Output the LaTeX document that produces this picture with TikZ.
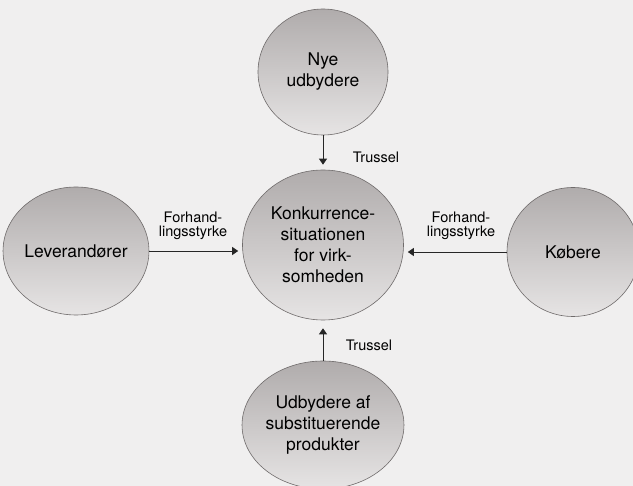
\documentclass[tikz,border=0pt]{standalone}
\usepackage{fontspec}
\setmainfont{TeX Gyre Heros}
\usepackage{tikz}
\usetikzlibrary{shapes.geometric,arrows.meta}
\definecolor{papir}{HTML}{F0EFEF}
\definecolor{kugletop}{HTML}{B0ACAC}
\definecolor{kuglemidt}{HTML}{D2CFCF}
\definecolor{kuglebund}{HTML}{E6E4E4}
\definecolor{kant}{HTML}{6F6B6B}

\begin{document}
\begin{tikzpicture}[x=1pt,y=-1pt,
   kugle/.style={ellipse,draw=kant,line width=0.6pt,top color=kugletop,
    middle color=kuglemidt,bottom color=kuglebund,inner sep=0pt,align=center,
    font=\fontsize{17.5}{21}\selectfont},
   pil/.style={-{Triangle[width=8pt,length=6pt]},line width=0.9pt,draw=black!85},
   etiket/.style={align=center,font=\fontsize{14.5}{14.5}\selectfont}
    ]
  \clip (0,0) rectangle (633,486);
  \fill[papir] (0,0) rectangle (633,486);

  % -- circles
  \node[kugle,minimum width=130pt,minimum height=126pt] at (323,72) (nye) {Nye\\udbydere};
  \node[kugle,minimum width=161pt,minimum height=150pt] at (323,245) (konk) {Konkurrence-\\situationen\\for virk-\\somheden};
  \node[kugle,minimum width=132pt,minimum height=128pt] at (76,251) (lev) {Leverandører};
  \node[kugle,minimum width=132pt,minimum height=129pt] at (573,252) (kob) {Købere};
  \node[kugle,minimum width=142pt,minimum height=128pt] at (323,425) (sub) {Udbydere af\\substituerende\\produkter};

  % -- labels
  \node[etiket] at (376,157) (trusselop) {Trussel};
  \node[etiket] at (369,345) (trusselned) {Trussel};
  \node[etiket] at (193,226) (forhlev) {Forhand-\\lingsstyrke};
  \node[etiket] at (461,226) (forhkob) {Forhand-\\lingsstyrke};

  % -- arrows
  \draw[pil,shorten >=5pt] (nye) -- (konk);
  \draw[pil,shorten >=8pt] (sub) -- (konk);
  \draw[pil,shorten >=4pt] (lev) -- (lev -| konk.west);
  \draw[pil,shorten >=4pt] (kob) -- (kob -| konk.east);
\end{tikzpicture}
\end{document}
